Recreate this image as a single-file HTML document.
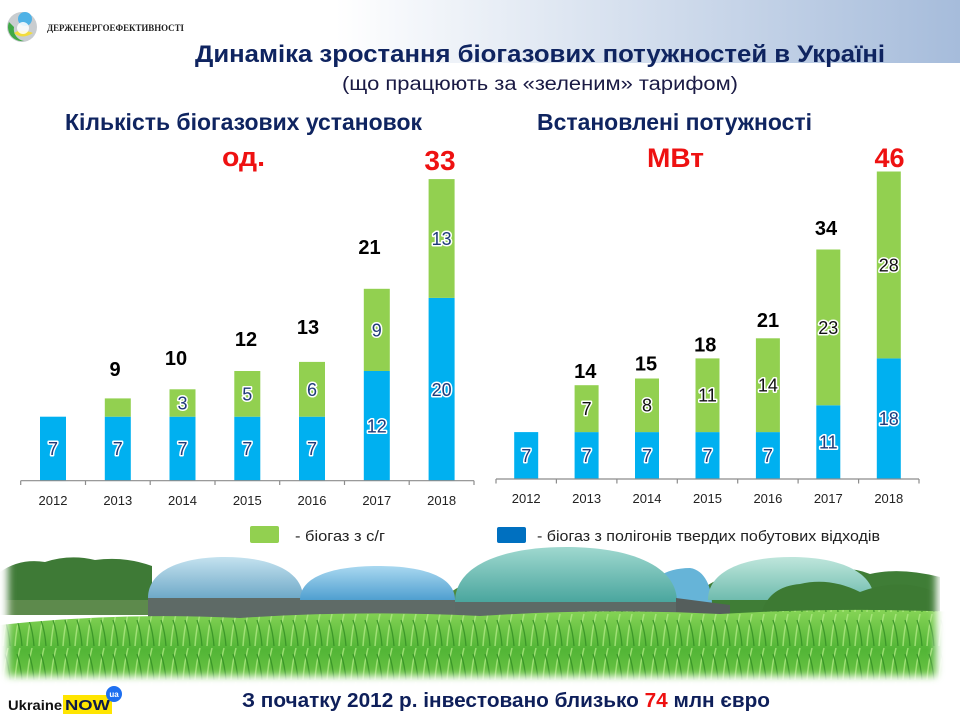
<!DOCTYPE html>
<html>
<head>
<meta charset="utf-8">
<style>
html,body{margin:0;padding:0;background:#fff;}
svg{display:block;}
text{font-family:"Liberation Sans","Noto Sans CJK SC",sans-serif;}
.ttl{fill:#0f2460;font-weight:bold;}
.tot{font-weight:bold;font-size:20px;fill:#000;text-anchor:middle;}
.red{fill:#ee1111;font-weight:bold;text-anchor:middle;}
.in{font-size:18px;text-anchor:middle;paint-order:stroke;stroke:#fff;stroke-width:3px;stroke-linejoin:round;}
.nv{fill:#1f3a7a;}
.bk{fill:#111;}
.yr{font-size:13px;fill:#222;text-anchor:middle;}
.ax{stroke:#8c8c8c;stroke-width:1.2;}
</style>
</head>
<body>
<svg width="960" height="720" viewBox="0 0 960 720" xmlns="http://www.w3.org/2000/svg">
<defs>
  <linearGradient id="hdr" x1="0" y1="0" x2="1" y2="0">
    <stop offset="0" stop-color="#ffffff"/>
    <stop offset="0.35" stop-color="#ffffff"/>
    <stop offset="1" stop-color="#a6bcdb"/>
  </linearGradient>
  <linearGradient id="d1" x1="0" y1="0" x2="0" y2="1">
    <stop offset="0" stop-color="#c4e2ef"/><stop offset="1" stop-color="#6fa9c8"/>
  </linearGradient>
  <linearGradient id="d2" x1="0" y1="0" x2="0" y2="1">
    <stop offset="0" stop-color="#a9d8f0"/><stop offset="1" stop-color="#4f9fd0"/>
  </linearGradient>
  <linearGradient id="d3" x1="0" y1="0" x2="0" y2="1">
    <stop offset="0" stop-color="#9fd8cf"/><stop offset="1" stop-color="#4aa69e"/>
  </linearGradient>
  <linearGradient id="d5" x1="0" y1="0" x2="0" y2="1">
    <stop offset="0" stop-color="#bfe6dc"/><stop offset="1" stop-color="#6fbcae"/>
  </linearGradient>
  <linearGradient id="corn" x1="0" y1="0" x2="0" y2="1">
    <stop offset="0" stop-color="#86d456"/><stop offset="0.5" stop-color="#52b536"/><stop offset="1" stop-color="#78cc4c"/>
  </linearGradient>
  <pattern id="leaf" width="12" height="34" patternUnits="userSpaceOnUse">
    <path d="M3 34 Q4 18 8 2" stroke="#b2ea86" stroke-width="1.5" fill="none"/>
    <path d="M10 34 Q9 20 5 8" stroke="#2f8a22" stroke-width="1.3" fill="none"/>
  </pattern>
  <filter id="soft" x="-5%" y="-20%" width="110%" height="140%">
    <feGaussianBlur stdDeviation="4"/>
  </filter>
  <mask id="pm">
    <rect x="8" y="538" width="928" height="138" fill="#fff" filter="url(#soft)"/>
  </mask>
</defs>

<!-- header band -->
<rect x="0" y="0" width="960" height="63" fill="url(#hdr)"/>

<!-- logo -->
<circle cx="22" cy="27" r="15" fill="#c9cdd0"/>
<path d="M9 22 A14 14 0 0 0 24 41 A12 12 0 0 1 14 27 Z" fill="#3fa845"/>
<path d="M14 33 Q22 40 33 33 Q26 30 18 31 Z" fill="#f2dc3c"/>
<circle cx="25" cy="19" r="7" fill="#4fb2e6"/>
<circle cx="23" cy="28" r="6" fill="#ffffff" opacity="0.85"/>
<text x="47" y="31" font-weight="bold" font-size="9.5" fill="#222" textLength="137" lengthAdjust="spacingAndGlyphs" style="font-family:'Liberation Serif',serif">ДЕРЖЕНЕРГОЕФЕКТИВНОСТІ</text>

<!-- titles -->
<text class="ttl" x="195" y="62" font-size="24" textLength="690" lengthAdjust="spacingAndGlyphs">Динаміка зростання біогазових потужностей в Україні</text>
<text x="342" y="90" font-size="19" fill="#1a1a44" textLength="396" lengthAdjust="spacingAndGlyphs">(що працюють за «зеленим» тарифом)</text>
<text class="ttl" x="65" y="130" font-size="23" textLength="357" lengthAdjust="spacingAndGlyphs">Кількість біогазових установок</text>
<text class="ttl" x="537" y="130" font-size="23" textLength="275" lengthAdjust="spacingAndGlyphs">Встановлені потужності</text>
<text x="222" y="166" font-size="27" fill="#ee1111" font-weight="bold" textLength="43" lengthAdjust="spacingAndGlyphs">од.</text>
<text x="647" y="167" font-size="27" fill="#ee1111" font-weight="bold" textLength="57" lengthAdjust="spacingAndGlyphs">МВт</text>

<!-- LEFT CHART -->
<g>
  <rect x="40" y="416.7" width="26" height="64" fill="#00b0f0"/>
  <rect x="104.8" y="416.7" width="26" height="64" fill="#00b0f0"/>
  <rect x="104.8" y="398.4" width="26" height="18.3" fill="#92d050"/>
  <rect x="169.5" y="416.7" width="26" height="64" fill="#00b0f0"/>
  <rect x="169.5" y="389.3" width="26" height="27.4" fill="#92d050"/>
  <rect x="234.3" y="416.7" width="26" height="64" fill="#00b0f0"/>
  <rect x="234.3" y="371" width="26" height="45.7" fill="#92d050"/>
  <rect x="299" y="416.7" width="26" height="64" fill="#00b0f0"/>
  <rect x="299" y="361.9" width="26" height="54.8" fill="#92d050"/>
  <rect x="363.8" y="371" width="26" height="109.7" fill="#00b0f0"/>
  <rect x="363.8" y="288.8" width="26" height="82.2" fill="#92d050"/>
  <rect x="428.6" y="297.9" width="26" height="182.8" fill="#00b0f0"/>
  <rect x="428.6" y="179.1" width="26" height="118.8" fill="#92d050"/>

  <line class="ax" x1="20.7" y1="480.7" x2="474" y2="480.7"/>
  <g class="ax">
    <line x1="20.7" y1="480.7" x2="20.7" y2="485"/>
    <line x1="85.5" y1="480.7" x2="85.5" y2="485"/>
    <line x1="150.2" y1="480.7" x2="150.2" y2="485"/>
    <line x1="215" y1="480.7" x2="215" y2="485"/>
    <line x1="279.7" y1="480.7" x2="279.7" y2="485"/>
    <line x1="344.5" y1="480.7" x2="344.5" y2="485"/>
    <line x1="409.2" y1="480.7" x2="409.2" y2="485"/>
    <line x1="474" y1="480.7" x2="474" y2="485"/>
  </g>

  <text class="in nv" x="53" y="455">7</text>
  <text class="in nv" x="117.8" y="455">7</text>
  <text class="in nv" x="182.5" y="455">7</text>
  <text class="in nv" x="182.5" y="409.5">3</text>
  <text class="in nv" x="247.3" y="455">7</text>
  <text class="in nv" x="247.3" y="400.5">5</text>
  <text class="in nv" x="312" y="455">7</text>
  <text class="in nv" x="312" y="396">6</text>
  <text class="in nv" x="376.8" y="432.5">12</text>
  <text class="in nv" x="376.8" y="336.5">9</text>
  <text class="in nv" x="441.6" y="395.8">20</text>
  <text class="in nv" x="441.6" y="245">13</text>

  <text class="tot" x="115" y="376">9</text>
  <text class="tot" x="176" y="365">10</text>
  <text class="tot" x="246" y="346">12</text>
  <text class="tot" x="308" y="334">13</text>
  <text class="tot" x="369.5" y="254">21</text>
  <text class="red" x="440" y="170" font-size="28">33</text>

  <text class="yr" x="53" y="505">2012</text>
  <text class="yr" x="117.8" y="505">2013</text>
  <text class="yr" x="182.5" y="505">2014</text>
  <text class="yr" x="247.3" y="505">2015</text>
  <text class="yr" x="312" y="505">2016</text>
  <text class="yr" x="376.8" y="505">2017</text>
  <text class="yr" x="441.6" y="505">2018</text>
</g>

<!-- RIGHT CHART -->
<g>
  <rect x="514.2" y="432.1" width="24" height="46.9" fill="#00b0f0"/>
  <rect x="574.6" y="432.1" width="24" height="46.9" fill="#00b0f0"/>
  <rect x="574.6" y="385.2" width="24" height="46.9" fill="#92d050"/>
  <rect x="635" y="432.1" width="24" height="46.9" fill="#00b0f0"/>
  <rect x="635" y="378.5" width="24" height="53.6" fill="#92d050"/>
  <rect x="695.5" y="432.1" width="24" height="46.9" fill="#00b0f0"/>
  <rect x="695.5" y="358.4" width="24" height="73.7" fill="#92d050"/>
  <rect x="755.9" y="432.1" width="24" height="46.9" fill="#00b0f0"/>
  <rect x="755.9" y="338.3" width="24" height="93.8" fill="#92d050"/>
  <rect x="816.3" y="405.3" width="24" height="73.7" fill="#00b0f0"/>
  <rect x="816.3" y="249.5" width="24" height="155.8" fill="#92d050"/>
  <rect x="876.8" y="358.4" width="24" height="120.6" fill="#00b0f0"/>
  <rect x="876.8" y="171.5" width="24" height="186.9" fill="#92d050"/>

  <line class="ax" x1="496" y1="479" x2="919" y2="479"/>
  <g class="ax">
    <line x1="496" y1="479" x2="496" y2="483.5"/>
    <line x1="556.4" y1="479" x2="556.4" y2="483.5"/>
    <line x1="616.9" y1="479" x2="616.9" y2="483.5"/>
    <line x1="677.3" y1="479" x2="677.3" y2="483.5"/>
    <line x1="737.7" y1="479" x2="737.7" y2="483.5"/>
    <line x1="798.1" y1="479" x2="798.1" y2="483.5"/>
    <line x1="858.6" y1="479" x2="858.6" y2="483.5"/>
    <line x1="919" y1="479" x2="919" y2="483.5"/>
  </g>

  <text class="in nv" x="526.2" y="462">7</text>
  <text class="in nv" x="586.6" y="462">7</text>
  <text class="in bk" x="586.6" y="415">7</text>
  <text class="in nv" x="647" y="462">7</text>
  <text class="in bk" x="647" y="411.5">8</text>
  <text class="in nv" x="707.5" y="462">7</text>
  <text class="in bk" x="707.5" y="401.5">11</text>
  <text class="in nv" x="767.9" y="462">7</text>
  <text class="in bk" x="767.9" y="391.5">14</text>
  <text class="in nv" x="828.3" y="448.5">11</text>
  <text class="in bk" x="828.3" y="334">23</text>
  <text class="in nv" x="888.8" y="425">18</text>
  <text class="in bk" x="888.8" y="271.5">28</text>

  <text class="tot" x="585.3" y="378">14</text>
  <text class="tot" x="646" y="370.5">15</text>
  <text class="tot" x="705.3" y="351.7">18</text>
  <text class="tot" x="768" y="327">21</text>
  <text class="tot" x="826" y="235">34</text>
  <text class="red" x="889.5" y="167" font-size="27">46</text>

  <text class="yr" x="526.2" y="503">2012</text>
  <text class="yr" x="586.6" y="503">2013</text>
  <text class="yr" x="647" y="503">2014</text>
  <text class="yr" x="707.5" y="503">2015</text>
  <text class="yr" x="767.9" y="503">2016</text>
  <text class="yr" x="828.3" y="503">2017</text>
  <text class="yr" x="888.8" y="503">2018</text>
</g>

<!-- legend -->
<rect x="250" y="526" width="29" height="17" rx="2" fill="#92d050"/>
<text x="295" y="541" font-size="15" fill="#222" textLength="90" lengthAdjust="spacingAndGlyphs">- біогаз з с/г</text>
<rect x="497" y="527" width="29" height="16" rx="2" fill="#0070c0"/>
<text x="537" y="541" font-size="15" fill="#222" textLength="343" lengthAdjust="spacingAndGlyphs">- біогаз з полігонів твердих побутових відходів</text>

<!-- photo -->
<g mask="url(#pm)">
  <!-- trees -->
  <path d="M0 615 L0 572 Q20 558 45 562 Q70 554 95 560 Q125 556 152 566 L152 615 Z" fill="#3e7a36"/>
  <path d="M0 600 L150 600 L150 615 L0 615 Z" fill="#5d8a4c"/>
  <path d="M440 602 Q460 578 500 580 L520 602 Z" fill="#4d8a3e"/>
  <path d="M690 615 L700 592 Q720 572 740 582 Q770 567 800 577 Q840 562 870 574 Q900 567 940 577 L940 617 Z" fill="#3f7d36"/>
  <!-- dome 4 behind -->
  <path d="M640 605 C645 580 665 568 690 568 C705 570 712 588 712 605 Z" fill="#66b4d8"/>
  <!-- dome 1 -->
  <rect x="148" y="597" width="155" height="28" fill="#5e6a66"/>
  <path d="M148 598 C148 570 182 557 225 557 C268 557 303 570 303 598 Z" fill="url(#d1)"/>
  <!-- dome 2 -->
  <rect x="300" y="599" width="155" height="25" fill="#5f6b67"/>
  <path d="M300 600 C300 576 334 566 378 566 C422 566 455 576 455 600 Z" fill="url(#d2)"/>
  <!-- dome 3 -->
  <rect x="455" y="600" width="222" height="20" fill="#5d6a66"/>
  <path d="M455 602 C455 564 505 547 566 547 C627 547 677 564 677 602 Z" fill="url(#d3)"/>
  <path d="M676 598 L730 605 L730 620 L676 620 Z" fill="#555e5c"/>
  <!-- dome 5 -->
  <path d="M708 600 C708 570 746 557 791 557 C836 557 874 570 874 600 Z" fill="url(#d5)"/>
  <path d="M760 620 Q765 587 800 584 Q830 577 860 592 Q900 577 935 592 L935 620 Z" fill="#3d7a33"/>
  <!-- corn -->
  <path d="M0 625 Q120 612 240 618 Q360 610 480 616 Q600 608 720 614 Q840 607 960 612 L960 690 L0 690 Z" fill="url(#corn)"/>
  <path d="M0 625 Q120 612 240 618 Q360 610 480 616 Q600 608 720 614 Q840 607 960 612 L960 690 L0 690 Z" fill="url(#leaf)" opacity="0.75"/>
</g>

<!-- bottom -->
<text x="8" y="710" font-size="14" font-weight="bold" fill="#111" textLength="54" lengthAdjust="spacingAndGlyphs">Ukraine</text>
<rect x="63" y="695" width="49" height="19" fill="#ffe500"/>
<text x="65" y="710" font-size="15" font-weight="bold" fill="#0d1b4a" textLength="45" lengthAdjust="spacingAndGlyphs">NOW</text>
<circle cx="114" cy="694" r="8" fill="#1e6ff0"/>
<text x="114" y="697" font-size="8" font-weight="bold" fill="#fff" text-anchor="middle">ua</text>

<text x="242" y="707" font-size="20" font-weight="bold" fill="#0e1f5a" textLength="528" lengthAdjust="spacingAndGlyphs">З початку 2012 р. інвестовано близько <tspan fill="#ee1111">74</tspan> млн євро</text>
</svg>
</body>
</html>
